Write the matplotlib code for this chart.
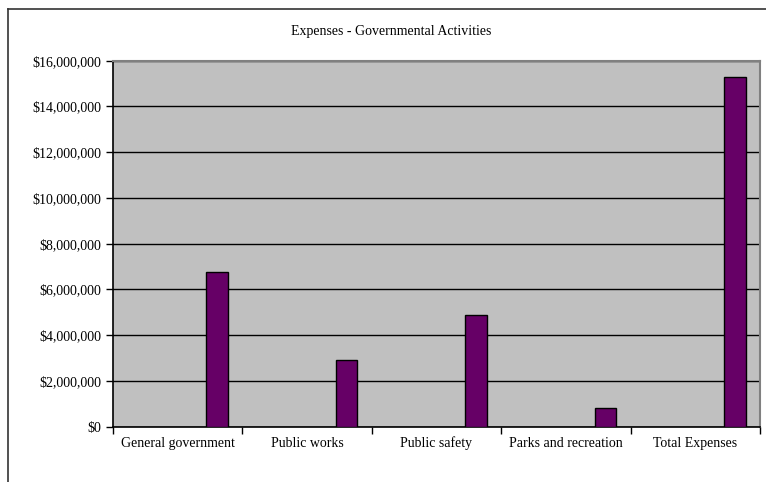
import matplotlib
matplotlib.use("Agg")
import matplotlib.pyplot as plt
from matplotlib.lines import Line2D
from matplotlib.ticker import FuncFormatter

categories = ["General government", "Public works", "Public safety",
              "Parks and recreation", "Total Expenses"]
expenses = [6750000, 2900000, 4880000, 800000, 15280000]
y_ticks = [0, 2000000, 4000000, 6000000, 8000000, 10000000,
           12000000, 14000000, 16000000]

plt.rcParams["font.family"] = ["Liberation Serif", "DejaVu Serif"]
plt.rcParams["font.size"] = 10

W, H = 766, 482
fig = plt.figure(figsize=(W / 100, H / 100), dpi=100)
ax = fig.add_axes([112.7 / W, 1 - 426.7 / H, (760.3 - 112.7) / W, (426.7 - 60.7) / H])

ax.set_facecolor("#c0c0c0")
positions = [i + 0.305 for i in range(len(categories))]
ax.bar(positions, expenses, width=0.163, color="#660066",
       edgecolor="black", linewidth=1.0, zorder=3)

ax.set_xlim(-0.5, len(categories) - 0.5)
ax.set_ylim(0, 16000000)
ax.set_yticks(y_ticks)
ax.yaxis.set_major_formatter(FuncFormatter(lambda v, p: "${:,.0f}".format(v)))
ax.grid(axis="y", color="black", linewidth=1.0, zorder=1)

# category labels centred, tick marks at the category boundaries
ax.set_xticks(range(len(categories)))
ax.set_xticklabels(categories, va="baseline")
ax.tick_params(axis="x", length=0, pad=14.5)
ax.set_xticks([i - 0.5 for i in range(len(categories) + 1)], minor=True)
ax.tick_params(axis="x", which="minor", length=5, width=1, color="black", direction="out")
ax.tick_params(axis="y", length=5, width=1, color="black", direction="out", pad=3)

ax.spines["left"].set_color("black")
ax.spines["bottom"].set_color("black")
ax.spines["left"].set_linewidth(1.2)
ax.spines["bottom"].set_linewidth(1.2)
ax.spines["top"].set_color("#808080")
ax.spines["right"].set_color("#808080")
ax.spines["top"].set_linewidth(1.5)
ax.spines["right"].set_linewidth(1.5)

fig.text(391 / W, 1 - 32 / H, "Expenses - Governmental Activities",
         ha="center", va="center", fontsize=10)

# outer chart frame (left and top edges visible)
fig.add_artist(Line2D([8 / W, 8 / W], [0, 1 - 9 / H], color="#333333", linewidth=1.2))
fig.add_artist(Line2D([8 / W, 1], [1 - 9 / H, 1 - 9 / H], color="#333333", linewidth=1.2))

fig.savefig("out.png", dpi=100)
